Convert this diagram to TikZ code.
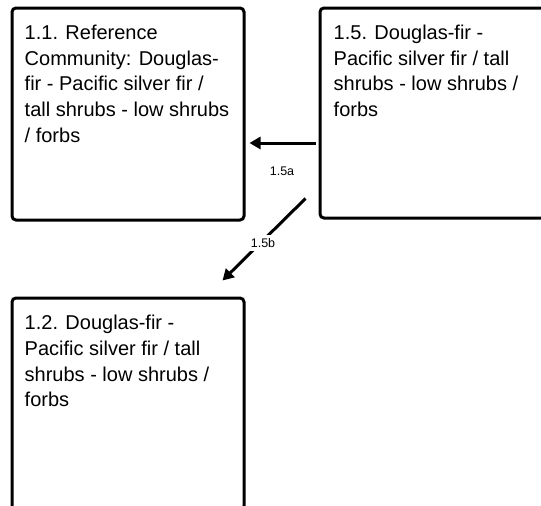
\documentclass[tikz,border=0pt]{standalone}
\usepackage{fontspec}
\setmainfont{Liberation Sans}
\usetikzlibrary{arrows.meta}
\tikzset{
  statebox/.style={draw=black, line width=3pt, rounded corners=4pt, fill=white, inner sep=0pt},
  boxtext/.style={anchor=base west, inner sep=0pt, font=\fontsize{20}{25.8}\selectfont},
  trans/.style={line width=3pt, -{Triangle[length=11pt,width=12pt]}},
  translabel/.style={fill=white, inner sep=3pt, font=\fontsize{12.5}{14}\selectfont}
}
\newcommand{\boxlines}[1]{\begin{tabular}[t]{@{}l@{}}#1\end{tabular}}
\begin{document}
\begin{tikzpicture}[x=1pt,y=1pt]
\useasboundingbox (0,0) rectangle (541,-506);
\clip (0,0) rectangle (541,-506);
\fill[white] (0,0) rectangle (541,-506);
% boxes
\node[statebox, minimum width=232pt, minimum height=212pt] (b11) at (128,-114) {};
\node[statebox, minimum width=226pt, minimum height=210pt] (b15) at (433,-113) {};
\node[statebox, minimum width=232pt, minimum height=212pt] (b12) at (128,-404) {};
% texts
\node[boxtext] (t11) at ([xshift=14pt,yshift=-32.7pt]b11.north west) {\boxlines{1.1. Reference\\Community: Douglas-\\fir - Pacific silver fir /\\tall shrubs - low shrubs\\/ forbs}};
\node[boxtext] (t15) at ([xshift=15pt,yshift=-32.7pt]b15.north west) {\boxlines{1.5. Douglas-fir -\\Pacific silver fir / tall\\shrubs - low shrubs /\\forbs}};
\node[boxtext] (t12) at ([xshift=14pt,yshift=-33pt]b12.north west) {\boxlines{1.2. Douglas-fir -\\Pacific silver fir / tall\\shrubs - low shrubs /\\forbs}};
% transitions
\coordinate (a1s) at ([xshift=-3pt,yshift=-30pt]b15.west);
\coordinate (a1e) at ([xshift=4pt,yshift=-29pt]b11.east);
\draw[trans] (a1s) -- (a1e);
\node[font=\fontsize{12.5}{14}\selectfont] (l15a) at (282,-171) {1.5a};
\coordinate (a2s) at ([xshift=-13pt,yshift=21pt]b15.south west);
\coordinate (a2e) at ([xshift=-23pt,yshift=16pt]b12.north east);
\draw[trans] (a2s) -- (a2e);
\node[translabel] (l15b) at (263,-243) {1.5b};
\end{tikzpicture}
\end{document}
